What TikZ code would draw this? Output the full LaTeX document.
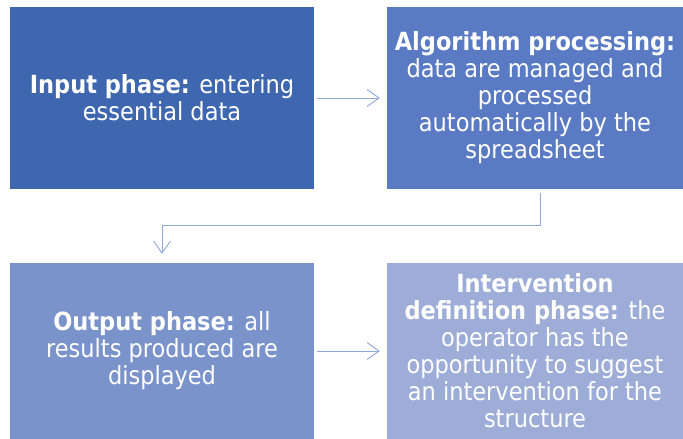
\documentclass[tikz,border=0pt]{standalone}
\usepackage{fontspec}
\IfFontExistsTF{DejaVu Sans Condensed}
  {\setmainfont{DejaVu Sans Condensed}}
  {\setmainfont{PT Sans}}
\usetikzlibrary{arrows.meta,positioning}

\definecolor{phaseA}{RGB}{62,103,176}
\definecolor{phaseB}{RGB}{90,123,196}
\definecolor{phaseC}{RGB}{122,147,203}
\definecolor{phaseD}{RGB}{158,173,216}
\definecolor{linkc}{RGB}{143,168,220}

\begin{document}
\begin{tikzpicture}[x=1pt,y=-1pt,
  phasebox/.style={rectangle, inner sep=0pt, text=white, align=center,
    font=\fontsize{25}{27}\selectfont},
  link/.style={draw=linkc, line width=0.9pt, -{Straight Barb[length=12pt,width=17pt]}}]

\useasboundingbox (0,0) rectangle (683,439);

\node[phasebox, fill=phaseA, minimum width=304pt, minimum height=182pt] (input) at (162,98)
  {\textbf{Input phase:} entering\\essential data};
\node[phasebox, fill=phaseB, minimum width=296pt, minimum height=182pt] (algo) at (535,98)
  {\textbf{Algorithm processing:}\\data are managed and\\processed\\automatically by the\\spreadsheet};
\node[phasebox, fill=phaseC, minimum width=304pt, minimum height=176pt] (output) at (162,351)
  {\textbf{Output phase:} all\\results produced are\\displayed};
\node[phasebox, fill=phaseD, minimum width=296pt, minimum height=176pt] (interv) at (535,351)
  {\textbf{Intervention}\\\textbf{definition phase:} the\\operator has the\\opportunity to suggest\\an intervention for the\\structure};

\draw[link] ([xshift=3pt]input.east) -- ([xshift=-7pt]algo.west);
\draw[link] ([xshift=5pt,yshift=-4pt]algo.south) -- ++(0,-32pt) -| ([yshift=9pt]output.north);
\draw[link] ([xshift=3pt]output.east) -- ([xshift=-7pt]interv.west);

\end{tikzpicture}
\end{document}
